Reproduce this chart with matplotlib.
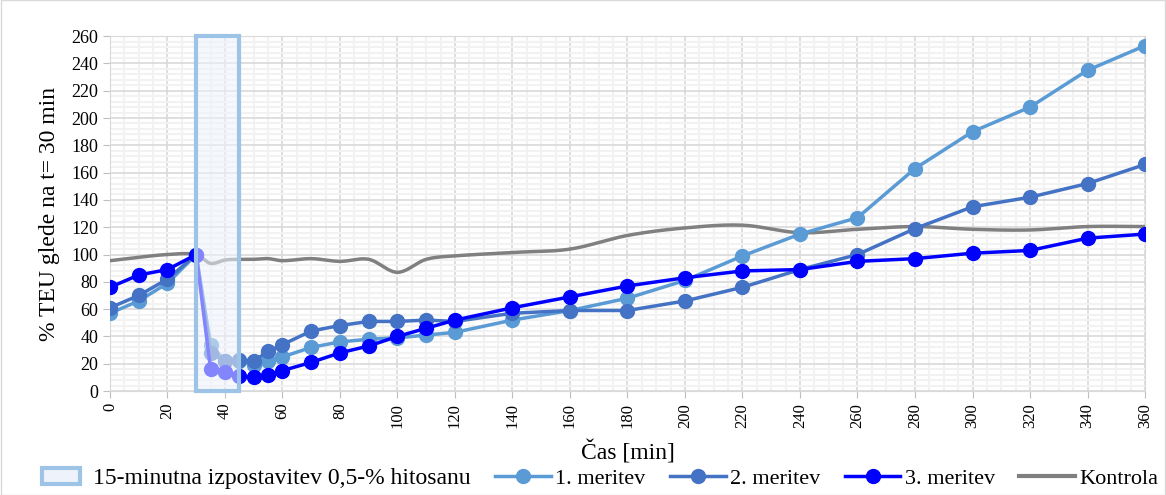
import numpy as np
import matplotlib
matplotlib.use("Agg")
import matplotlib.pyplot as plt
from matplotlib.patches import Rectangle, Patch
from matplotlib.lines import Line2D
from matplotlib.legend_handler import HandlerPatch
from matplotlib.ticker import MultipleLocator

plt.rcParams['font.family'] = ['Liberation Serif', 'DejaVu Serif']

# Data
time_min = [0, 10, 20, 30, 35, 40, 45, 50, 55, 60, 70, 80, 90, 100, 110, 120,
            140, 160, 180, 200, 220, 240, 260, 280, 300, 320, 340, 360]
meritev1 = [57, 66, 79, 100, 34, 22, 22, 19, 22, 25, 32, 36, 38, 39, 41, 43,
            52, 59, 68, 81, 99, 115, 127, 163, 190, 208, 235, 253]
meritev2 = [61, 70, 82, 100, 28, 22, 23, 22, 29, 34, 44, 48, 51, 51, 52, 51,
            57, 59, 59, 66, 76, 89, 100, 119, 135, 142, 152, 166]
meritev3 = [76, 85, 89, 100, 16, 14, 11, 10, 12, 15, 21, 28, 33, 40, 46, 52,
            61, 69, 77, 83, 88, 89, 95, 97, 101, 103, 112, 115]
kontrola = [95.5, 98, 100, 100, 93.5, 96, 96.5, 96.5, 97, 95.5, 97, 95, 96.5, 87, 96.5, 99,
            101.5, 104, 114, 119.5, 121.5, 116, 118.5, 120.5, 118.5, 118, 120.5, 120.5]
exposure = (30, 45)

labels = ["1. meritev", "2. meritev", "3. meritev", "Kontrola"]
colors = ["#5B9BD5", "#4472C4", "#0000FF", "#808080"]


def smooth(x, y, n=20):
    # cubic hermite drawing of a line through the points (Excel-like smoothed line)
    x = np.asarray(x, float)
    y = np.asarray(y, float)
    m = np.zeros_like(y)
    m[1:-1] = (y[2:] - y[:-2]) / (x[2:] - x[:-2])
    m[0] = (y[1] - y[0]) / (x[1] - x[0])
    m[-1] = (y[-1] - y[-2]) / (x[-1] - x[-2])
    xs, ys = [], []
    for i in range(len(x) - 1):
        h = x[i + 1] - x[i]
        t = np.linspace(0, 1, n, endpoint=False)
        h00 = 2 * t**3 - 3 * t**2 + 1
        h10 = t**3 - 2 * t**2 + t
        h01 = -2 * t**3 + 3 * t**2
        h11 = t**3 - t**2
        xs.append(x[i] + t * h)
        ys.append(h00 * y[i] + h10 * h * m[i] + h01 * y[i + 1] + h11 * h * m[i + 1])
    xs.append([x[-1]])
    ys.append([y[-1]])
    return np.concatenate(xs), np.concatenate(ys)


def small_box(legend, orig_handle, xdescent, ydescent, width, height, fontsize):
    w = width * 0.67
    return Rectangle((-xdescent + (width - w) * 0.5, -ydescent), w, height)


fig = plt.figure(figsize=(11.66, 4.95), dpi=100)
ax = fig.add_axes([0.0943, 0.21, 0.8877, 0.717])

ax.set_xlim(0, 360)
ax.set_ylim(0, 260)
ax.xaxis.set_major_locator(MultipleLocator(20))
ax.xaxis.set_minor_locator(MultipleLocator(5))
ax.yaxis.set_major_locator(MultipleLocator(20))
ax.yaxis.set_minor_locator(MultipleLocator(4))
ax.grid(which='minor', color='#F2F2F2', lw=1.5, zorder=0)
ax.grid(which='major', color='#D9D9D9', lw=1.2, zorder=0)
ax.set_axisbelow(True)

# control (smoothed)
sx, sy = smooth(time_min, kontrola)
ax.plot(sx, sy, color=colors[3], lw=2.5, zorder=3)

for vals, c in zip([meritev1, meritev2, meritev3], colors[:3]):
    ax.plot(time_min, vals, color=c, lw=2.5, marker='o', markersize=10, zorder=4)

# exposure box drawn over the lines
ax.add_patch(Rectangle((exposure[0], 0), exposure[1] - exposure[0], 260,
                       facecolor='#EEF3FB', alpha=0.55, edgecolor='none', zorder=5))
ax.add_patch(Rectangle((exposure[0], 0), exposure[1] - exposure[0], 260,
                       facecolor='none', edgecolor='#9DC3E6', lw=3, zorder=6,
                       clip_on=False))

for s in ax.spines.values():
    s.set_color('#D9D9D9')
ax.tick_params(axis='both', which='major', colors='#BFBFBF', labelcolor='black',
               length=5)
ax.tick_params(axis='x', labelsize=12)
ax.tick_params(axis='y', labelsize=13)
ax.tick_params(axis='both', which='minor', length=0)
plt.setp(ax.get_xticklabels(), rotation=90)

ax.set_xlabel("Čas [min]", fontsize=17, labelpad=9)
ax.set_ylabel("% TEU glede na t= 30 min", fontsize=17, labelpad=8)

box_handle = Patch(facecolor='#EEF3FB', edgecolor='#9DC3E6', lw=3)
handles = [box_handle]
for i, c in enumerate(colors):
    if i < 3:
        handles.append(Line2D([], [], color=c, lw=2.5, marker='o', markersize=10))
    else:
        handles.append(Line2D([], [], color=c, lw=3))
leg = fig.legend(handles, ["15-minutna izpostavitev 0,5-% hitosanu"] + labels,
                 loc='center', bbox_to_anchor=(0.511, 0.034), ncol=5, frameon=False,
                 fontsize=16, handlelength=2.5, handletextpad=0.2, columnspacing=1.1,
                 handler_map={box_handle: HandlerPatch(patch_func=small_box)})
leg.get_texts()[0].set_fontsize(17)

fig.patches.append(Rectangle((0.001, 0.001), 0.998, 0.998, transform=fig.transFigure,
                             fill=False, edgecolor='#D9D9D9', lw=1))

fig.savefig("out.png", dpi=100)
